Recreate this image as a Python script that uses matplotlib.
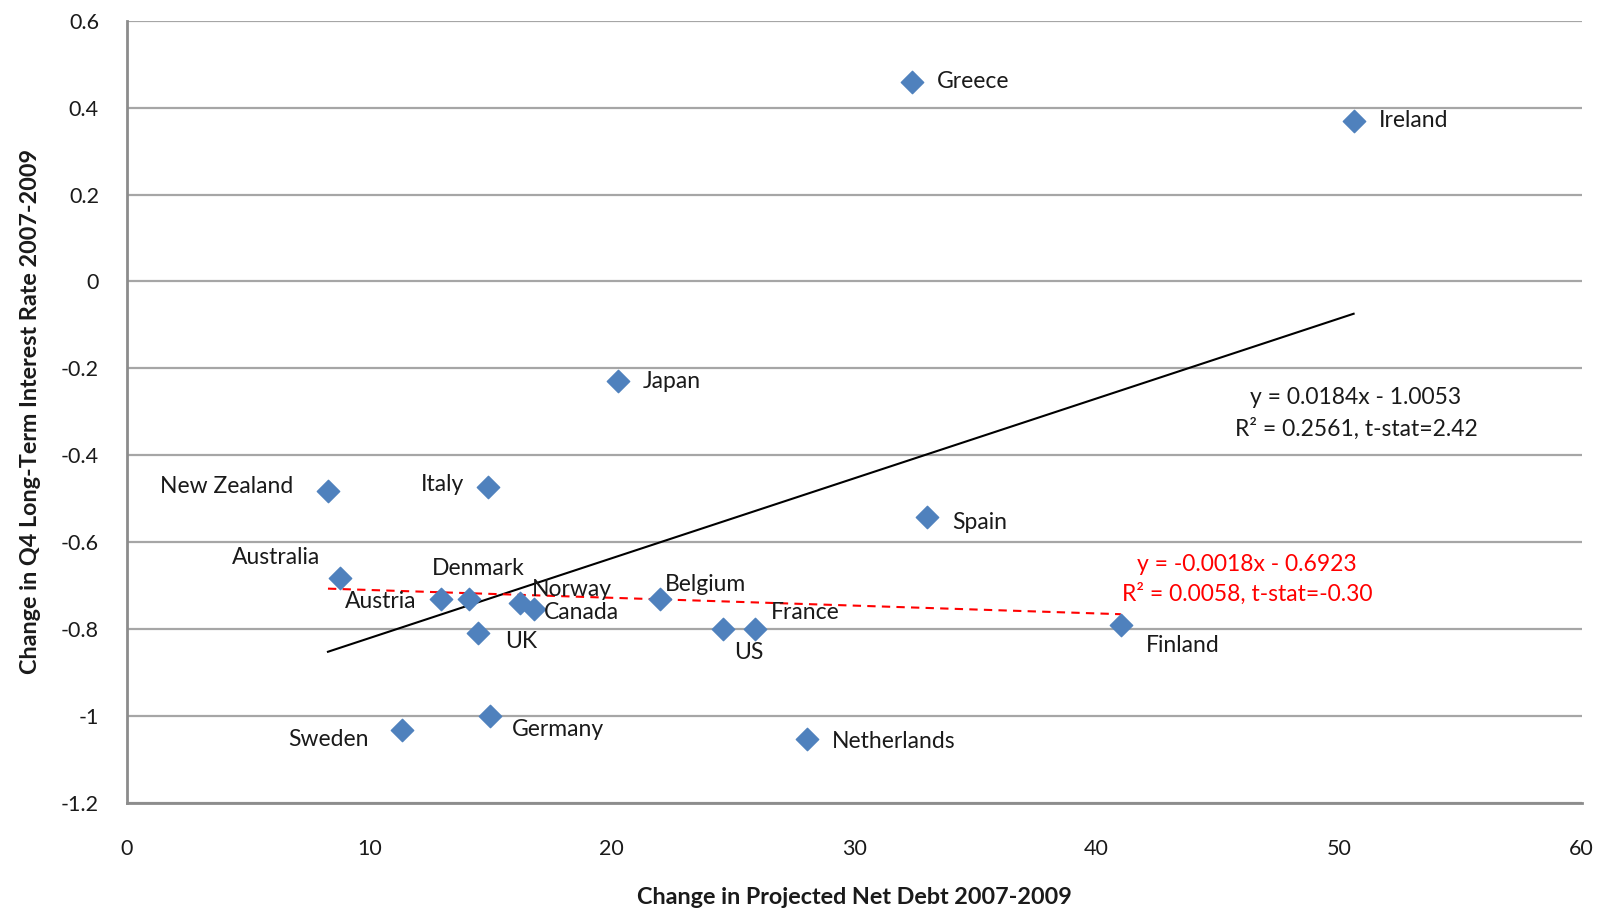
import numpy as np
import matplotlib
matplotlib.use("Agg")
import matplotlib.pyplot as plt
from matplotlib.ticker import FuncFormatter

# Datos
paises = ["Greece", "Ireland", "Japan", "New Zealand", "Italy", "Spain",
          "Australia", "Austria", "Denmark", "Norway", "Canada", "UK",
          "Belgium", "France", "US", "Finland", "Sweden", "Germany",
          "Netherlands"]
deuda = [32.4, 50.6, 20.25, 8.3, 14.9, 33.0,
         8.8, 12.95, 14.1, 16.2, 16.8, 14.5,
         22.0, 25.9, 24.6, 41.0, 11.35, 15.0,
         28.05]
tasa = [0.46, 0.37, -0.23, -0.482, -0.473, -0.543,
        -0.682, -0.732, -0.732, -0.741, -0.753, -0.81,
        -0.732, -0.80, -0.80, -0.79, -1.033, -1.0,
        -1.054]

# Rectas de regresión (coeficientes del gráfico)
pend_todos, int_todos = 0.0184, -1.0053
pend_sub, int_sub = -0.0018, -0.6923
excluidos = ["Greece", "Ireland"]

# desplazamiento de etiquetas (px) y alineación
offs = {
    "Greece": (25, 0, "left"), "Ireland": (25, 0, "left"),
    "Japan": (25, 0, "left"), "New Zealand": (-35, 4, "right"),
    "Italy": (-24, 2, "right"), "Spain": (25, -5, "left"),
    "Australia": (-20, 20, "right"), "Austria": (-24, -2, "right"),
    "Denmark": (10, 31, "center"), "Norway": (12, 14, "left"),
    "Canada": (10, -4, "left"), "UK": (27, -8, "left"),
    "Belgium": (5, 15, "left"), "France": (16, 16, "left"),
    "US": (26, -24, "center"), "Finland": (25, -21, "left"),
    "Sweden": (-33, -9, "right"), "Germany": (21, -14, "left"),
    "Netherlands": (25, -2, "left"),
}

def fmt(v, p):
    v = round(v, 1)
    if v == 0:
        return "0"
    return "%g" % v

plt.rcParams["font.family"] = ["Lato", "DejaVu Sans"]
fig = plt.figure(figsize=(16.04, 9.09), dpi=100)
ax = fig.add_axes([0.079, 0.117, 0.907, 0.86])

ax.set_xlim(0, 60)
ax.set_ylim(-1.2, 0.6)
ax.set_xticks(np.arange(0, 61, 10))
ax.set_yticks(np.arange(-1.2, 0.61, 0.2))
ax.yaxis.set_major_formatter(FuncFormatter(fmt))
ax.grid(axis="y", color="#A6A6A6", lw=1.6)
ax.set_axisbelow(True)
for s in ["top", "right"]:
    ax.spines[s].set_visible(False)
ax.spines["left"].set_color("#8C8C8C")
ax.spines["left"].set_linewidth(2)
ax.spines["bottom"].set_color("#8C8C8C")
ax.spines["bottom"].set_linewidth(2)
ax.tick_params(axis="x", length=0, labelsize=15.5, colors="#1A1A1A", pad=26)
ax.tick_params(axis="y", length=0, labelsize=15.5, colors="#1A1A1A", pad=20)

ax.scatter(deuda, tasa, marker="D", s=130, color="#4F81BD", zorder=3)

x = np.array(deuda)
xs = np.array([x.min(), x.max()])
ax.plot(xs, pend_todos * xs + int_todos, color="black", lw=1.5, zorder=2)
xsub = np.array([d for d, p in zip(deuda, paises) if p not in excluidos])
xs2 = np.array([xsub.min(), xsub.max()])
ax.plot(xs2, pend_sub * xs2 + int_sub, color="#FF0000", lw=1.5, ls=(0, (4, 3)), zorder=2)

for p, d, t in zip(paises, deuda, tasa):
    dx, dy, ha = offs[p]
    ax.annotate(p, (d, t), xytext=(dx, dy), textcoords="offset pixels",
                ha=ha, va="center", fontsize=16.5, color="#1A1A1A")

ax.text(50.7, -0.268, "y = 0.0184x - 1.0053", ha="center", va="center",
        fontsize=16.5, color="#1A1A1A")
ax.text(50.7, -0.339, "R² = 0.2561, t-stat=2.42", ha="center", va="center",
        fontsize=16.5, color="#1A1A1A")
ax.text(46.2, -0.652, "y = -0.0018x - 0.6923", ha="center", va="center",
        fontsize=16.5, color="#FF0000")
ax.text(46.2, -0.72, "R² = 0.0058, t-stat=-0.30", ha="center", va="center",
        fontsize=16.5, color="#FF0000")

ax.set_xlabel("Change in Projected Net Debt 2007-2009", fontsize=16.8,
              fontweight="bold", color="#1A1A1A", labelpad=20)
ax.set_ylabel("Change in Q4 Long-Term Interest Rate 2007-2009", fontsize=16.8,
              fontweight="bold", color="#1A1A1A", labelpad=14)

fig.savefig("out.png", dpi=100)
